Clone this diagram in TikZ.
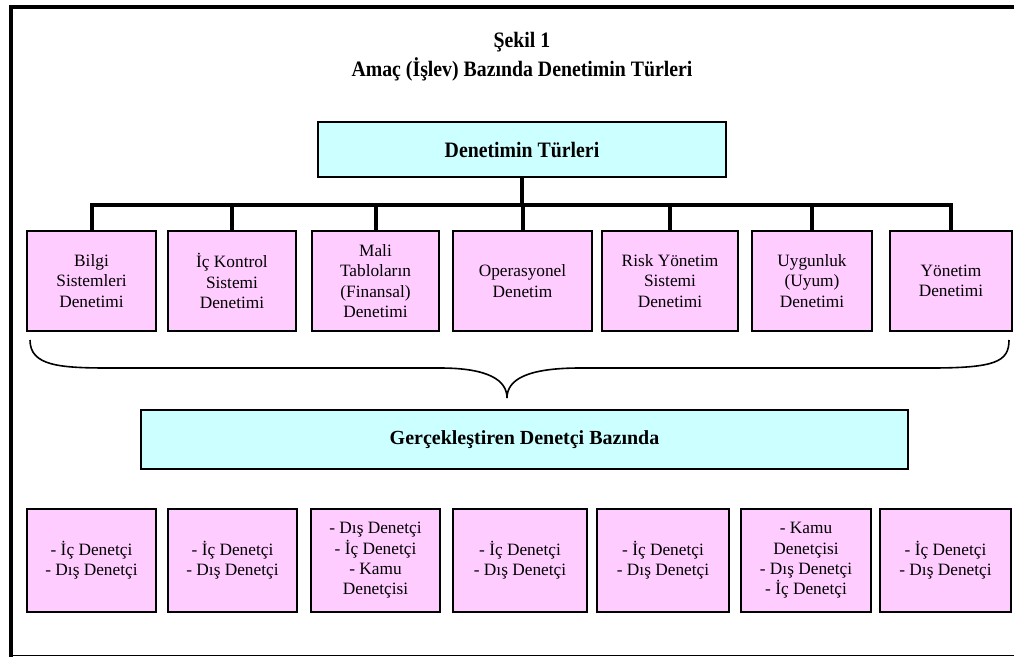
\documentclass[tikz,border=0pt]{standalone}
\usepackage{fontspec}
\setmainfont{Liberation Serif}
\newfontfamily\condfont{Liberation Serif}[FakeStretch=0.9]
\definecolor{cyanfill}{HTML}{CCFFFF}
\definecolor{pinkfill}{HTML}{FFCCFF}
\begin{document}
\begin{tikzpicture}[x=1pt,y=-1pt,
  cyanbox/.style={draw=black,line width=2.2pt,fill=cyanfill,inner sep=0pt},
  pinkbox/.style={draw=black,line width=2.2pt,fill=pinkfill,inner sep=0pt,
    align=center,font=\fontsize{17.3}{20.3}\selectfont},
  conn/.style={line width=4pt,line cap=rect},
  frame/.style={line width=4pt},
  bracepath/.style={line width=1.6pt}]
\useasboundingbox (0,0) rectangle (1014,657);
% frame
\draw[frame] (11,5) -- (11,657);
\draw[frame] (9,7) -- (1014,7);
\draw[line width=1.3pt] (11,655.8) -- (1014,655.8);
% title
\node[align=center,font=\condfont\fontsize{22}{29}\selectfont\bfseries] (title) at (522,57)
  {Şekil 1\\Amaç (İşlev) Bazında Denetimin Türleri};
% top box
\node[cyanbox,minimum width=408pt,minimum height=55pt,
  font=\condfont\fontsize{22}{26}\selectfont\bfseries] (top) at (522,149.5) {Denetimin Türleri};
% row 1
\node[pinkbox,minimum width=129pt,minimum height=100pt] (b1) at (91.5,281) {Bilgi\\Sistemleri\\Denetimi};
\node[pinkbox,minimum width=128pt,minimum height=100pt] (b2) at (232,281) {İç Kontrol\\Sistemi\\Denetimi};
\node[pinkbox,minimum width=127pt,minimum height=100pt] (b3) at (375.5,281) {Mali\\Tabloların\\(Finansal)\\Denetimi};
\node[pinkbox,minimum width=139pt,minimum height=100pt] (b4) at (522.5,281) {Operasyonel\\Denetim};
\node[pinkbox,minimum width=136pt,minimum height=100pt] (b5) at (670,281) {Risk Yönetim\\Sistemi\\Denetimi};
\node[pinkbox,minimum width=120pt,minimum height=100pt] (b6) at (812,281) {Uygunluk\\(Uyum)\\Denetimi};
\node[pinkbox,minimum width=122pt,minimum height=100pt] (b7) at (951,281) {Yönetim\\Denetimi};
% connectors
\coordinate (bar) at (522,205);
\draw[conn] (top.south) -- (bar);
\draw[conn] (b1.north |- bar) -- (b7.north |- bar);
\foreach \b in {b1,b2,b3,b4,b5,b6,b7}
  \draw[conn] (\b.north |- bar) -- (\b.north);
% brace
\coordinate (bl) at (30,340);
\coordinate (tip) at (507,398);
\coordinate (br) at (1009,340);
\draw[bracepath] (bl) .. controls (30,366) and (60,368) .. (110,368)
  -- (440,368) .. controls (488,368) and (507,380) .. (tip);
\draw[bracepath] (tip) .. controls (507,380) and (526,368) .. (580,368)
  -- (930,368) .. controls (995,368) and (1009,362) .. (br);
% second cyan box
\node[cyanbox,minimum width=767pt,minimum height=59pt,
  font=\fontsize{20}{24}\selectfont\bfseries] (perf) at (524.5,439.5) {Gerçekleştiren Denetçi Bazında};
% row 2
\node[pinkbox,minimum width=129pt,minimum height=103pt] (c1) at (91.5,560.5) {- İç Denetçi\\- Dış Denetçi};
\node[pinkbox,minimum width=129pt,minimum height=103pt] (c2) at (232.5,560.5) {- İç Denetçi\\- Dış Denetçi};
\node[pinkbox,minimum width=129pt,minimum height=103pt] (c3) at (375.5,560.5) {- Dış Denetçi\\- İç Denetçi\\- Kamu\\Denetçisi};
\node[pinkbox,minimum width=134pt,minimum height=103pt] (c4) at (520,560.5) {- İç Denetçi\\- Dış Denetçi};
\node[pinkbox,minimum width=132pt,minimum height=103pt] (c5) at (663,560.5) {- İç Denetçi\\- Dış Denetçi};
\node[pinkbox,minimum width=130pt,minimum height=103pt] (c6) at (806,560.5) {- Kamu\\Denetçisi\\- Dış Denetçi\\- İç Denetçi};
\node[pinkbox,minimum width=131pt,minimum height=103pt] (c7) at (945.5,560.5) {- İç Denetçi\\- Dış Denetçi};
\end{tikzpicture}
\end{document}
